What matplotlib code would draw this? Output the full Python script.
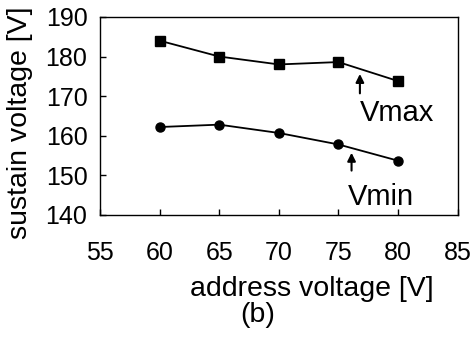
import matplotlib.pyplot as plt

plt.rcParams['font.family'] = ['Liberation Sans', 'DejaVu Sans']

address_v = [60, 65, 70, 75, 80]
vmax = [184, 180, 178, 178.6, 173.8]
vmin = [162.2, 162.8, 160.7, 157.8, 153.7]

fig = plt.figure(figsize=(4.75, 3.38), dpi=100)
ax = fig.add_axes([0.2105, 0.364, 0.753, 0.586])

ax.plot(address_v, vmax, color='black', lw=1.3, marker='s', ms=6.5)
ax.plot(address_v, vmin, color='black', lw=1.3, marker='o', ms=6.5)

ax.set_xlim(55, 85)
ax.set_ylim(140, 190)
ax.set_xticks([55, 60, 65, 70, 75, 80, 85])
ax.set_yticks([140, 150, 160, 170, 180, 190])
ax.tick_params(direction='in', labelsize=18, length=4, width=1)
ax.tick_params(axis='x', pad=19)
ax.tick_params(axis='y', pad=9)
for s in ax.spines.values():
    s.set_linewidth(1)

arrow = dict(arrowstyle='-|>', color='black', lw=1.5, mutation_scale=12)
ax.annotate('', xy=(76.8, 176.3), xytext=(76.8, 170.0), arrowprops=arrow)
ax.text(79.9, 165.8, 'Vmax', fontsize=21, ha='center', va='center')
ax.annotate('', xy=(76.1, 156.4), xytext=(76.1, 150.5), arrowprops=arrow)
ax.text(78.6, 144.6, 'Vmin', fontsize=21, ha='center', va='center')

fig.text(0.042, 0.636, 'sustain voltage [V]', fontsize=20.5, rotation=90,
         ha='center', va='center')
fig.text(0.657, 0.145, 'address voltage [V]', fontsize=20.5,
         ha='center', va='center')
fig.text(0.543, 0.068, '(b)', fontsize=20.5, ha='center', va='center')

fig.savefig('out.png', dpi=100)
